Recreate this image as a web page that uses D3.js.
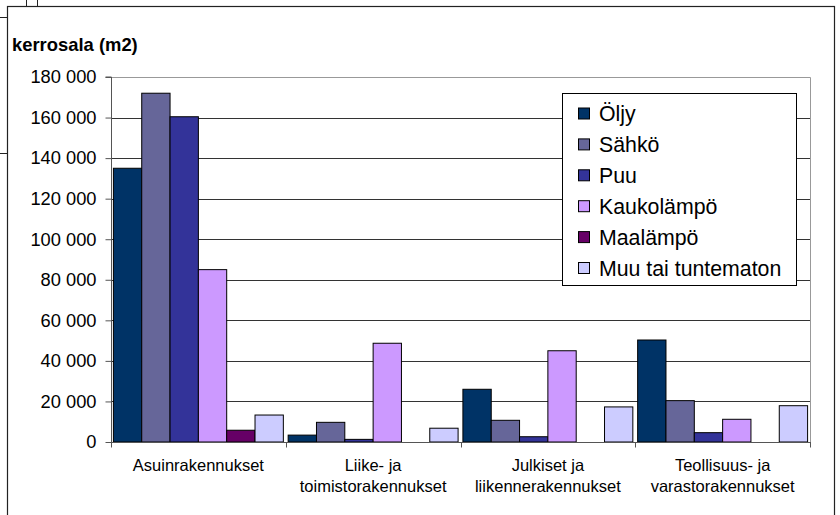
<!DOCTYPE html>
<html>
<head>
<meta charset="utf-8">
<script src="https://cdn.jsdelivr.net/npm/d3@7"></script>
<style>
  body { margin: 0; background: #fff; }
  svg { display: block; font-family: "Liberation Sans", Arial, sans-serif; }
</style>
</head>
<body>
<div id="chart"></div>
<script>
// category labels (split into lines as in the picture)
var categories = ["Asuinrakennukset", "Liike- ja toimistorakennukset", "Julkiset ja liikennerakennukset", "Teollisuus- ja varastorakennukset"];
var categoryLines = [["Asuinrakennukset"], ["Liike- ja", "toimistorakennukset"], ["Julkiset ja", "liikennerakennukset"], ["Teollisuus- ja", "varastorakennukset"]];

var seriesNames = ["Öljy", "Sähkö", "Puu", "Kaukolämpö", "Maalämpö", "Muu tai tuntematon"];
var seriesColors = ["#003366", "#666699", "#333399", "#cc99ff", "#660066", "#ccccff"];

// kerrosala (m2) per category
var oljy = [135000, 3400, 26000, 50300];
var sahko = [172000, 9700, 10700, 20400];
var puu = [160400, 1300, 2600, 4600];
var kaukolampo = [85000, 48700, 45000, 11200];
var maalampo = [5800, 0, 0, 0];
var muu = [13300, 6800, 17300, 17900];

var seriesValues = [oljy, sahko, puu, kaukolampo, maalampo, muu];
var yTicks = [0, 20000, 40000, 60000, 80000, 100000, 120000, 140000, 160000, 180000];

var width = 840, height = 515;
var plot = {left: 111, right: 810, top: 77, bottom: 442};

var svg = d3.select("#chart").append("svg")
    .attr("width", width)
    .attr("height", height);

// stray lines outside the chart frame
var stray = [[26.5, 0, 26.5, 6], [37.5, 0, 37.5, 6], [0, 17.5, 7, 17.5], [0, 153.5, 7, 153.5]];
svg.selectAll(".stray").data(stray).enter().append("line")
    .attr("x1", function(d){ return d[0]; })
    .attr("y1", function(d){ return d[1]; })
    .attr("x2", function(d){ return d[2]; })
    .attr("y2", function(d){ return d[3]; })
    .attr("stroke", "#222")
    .attr("stroke-width", 1);

// chart frame
svg.append("rect")
    .attr("x", 7.5).attr("y", 6.5)
    .attr("width", 827).attr("height", 530)
    .attr("fill", "#fff")
    .attr("stroke", "#222")
    .attr("stroke-width", 1.2);

var fmt = d3.formatLocale({decimal: ",", thousands: " ", grouping: [3], currency: ["", ""]}).format(",d");

var y = d3.scaleLinear().domain([0, 180000]).range([plot.bottom, plot.top]);
var x0 = d3.scaleBand().domain(categories).range([plot.left, plot.right]).padding(0);
var x1 = d3.scaleBand().domain(seriesNames).range([0, x0.bandwidth()]).paddingInner(0).paddingOuter(0.085);

// gridlines
svg.append("g").selectAll("line").data(yTicks.slice(1)).enter().append("line")
    .attr("x1", plot.left).attr("x2", plot.right)
    .attr("y1", function(d){ return Math.round(y(d)) + 0.5; })
    .attr("y2", function(d){ return Math.round(y(d)) + 0.5; })
    .attr("stroke", "#333")
    .attr("stroke-width", 1);

// plot area border (top/right, gray)
svg.append("path")
    .attr("d", "M" + plot.left + "," + (plot.top + 0.5) + "H" + (plot.right + 0.5) + "V" + plot.bottom)
    .attr("fill", "none")
    .attr("stroke", "#999")
    .attr("stroke-width", 1);

// bars
var groups = svg.append("g").selectAll("g").data(categories).enter().append("g")
    .attr("transform", function(c){ return "translate(" + x0(c) + ",0)"; });

groups.selectAll("rect")
    .data(function(c, ci){
        return seriesNames.map(function(s, si){ return {s: s, i: si, v: seriesValues[si][ci]}; })
            .filter(function(d){ return d.v > 0; });
    })
    .enter().append("rect")
    .attr("x", function(d){ return x1(d.s); })
    .attr("y", function(d){ return y(d.v); })
    .attr("width", x1.bandwidth())
    .attr("height", function(d){ return y(0) - y(d.v); })
    .attr("fill", function(d){ return seriesColors[d.i]; })
    .attr("stroke", "#000")
    .attr("stroke-width", 1);

// y axis
var yAxis = d3.axisLeft(y).tickValues(yTicks).tickFormat(fmt).tickSize(6).tickPadding(9);
var gy = svg.append("g")
    .attr("transform", "translate(" + (plot.left + 0.5) + ",0)")
    .call(yAxis);
gy.select(".domain").attr("stroke", "#555").attr("d", "M-6," + plot.top + "H0V" + (plot.bottom + 5));
gy.selectAll(".tick line").attr("stroke", "#555");
gy.selectAll(".tick text")
    .attr("font-size", "18.3px")
    .attr("fill", "#000")
    .attr("font-family", "Liberation Sans, Arial, sans-serif");

// x axis
var gx = svg.append("g")
    .attr("transform", "translate(0," + (plot.bottom + 0.5) + ")");
gx.append("line")
    .attr("x1", plot.left).attr("x2", plot.right + 1)
    .attr("stroke", "#555");
var bounds = categories.map(function(c){ return x0(c); }).concat([plot.right]);
gx.selectAll(".xt").data(bounds).enter().append("line")
    .attr("x1", function(d){ return Math.round(d) + 0.5; })
    .attr("x2", function(d){ return Math.round(d) + 0.5; })
    .attr("y1", 0).attr("y2", 5)
    .attr("stroke", "#555");

var labels = svg.append("g").selectAll("text").data(categories).enter().append("text")
    .attr("text-anchor", "middle")
    .attr("font-size", "16.5px")
    .attr("fill", "#000");
labels.each(function(c, i){
    var t = d3.select(this);
    categoryLines[i].forEach(function(line, li){
        t.append("tspan")
            .attr("x", x0(c) + x0.bandwidth() / 2)
            .attr("y", 471 + li * 20.5)
            .text(line);
    });
});

// axis title
svg.append("text")
    .attr("x", 12)
    .attr("y", 51)
    .attr("font-size", "18.4px")
    .attr("font-weight", "bold")
    .attr("fill", "#000")
    .text("kerrosala (m2)");

// legend
var legend = svg.append("g");
legend.append("rect")
    .attr("x", 562.5).attr("y", 93.5)
    .attr("width", 234).attr("height", 192)
    .attr("fill", "#fff")
    .attr("stroke", "#000")
    .attr("stroke-width", 1);
var items = legend.selectAll(".item").data(seriesNames).enter().append("g")
    .attr("transform", function(d, i){ return "translate(0," + (113.5 + i * 30.9) + ")"; });
items.append("rect")
    .attr("x", 578.5).attr("y", -5.5)
    .attr("width", 11).attr("height", 11)
    .attr("fill", function(d, i){ return seriesColors[i]; })
    .attr("stroke", "#000")
    .attr("stroke-width", 1);
items.append("text")
    .attr("x", 599)
    .attr("y", 0)
    .attr("dy", "0.36em")
    .attr("font-size", "21.3px")
    .attr("fill", "#000")
    .text(function(d){ return d; });
</script>
</body>
</html>
